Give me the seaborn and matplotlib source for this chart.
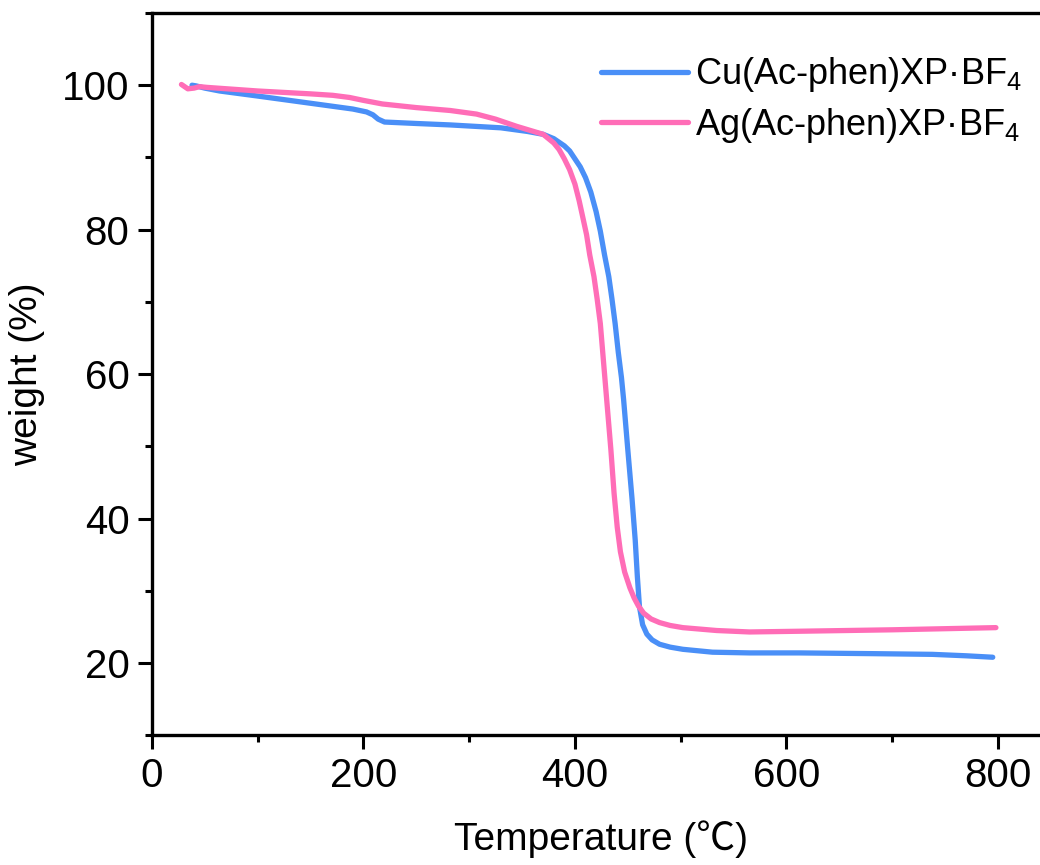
import numpy as np
import pandas as pd
import matplotlib
matplotlib.use("Agg")
import matplotlib.pyplot as plt
import seaborn as sns
from matplotlib.ticker import MultipleLocator

# ---- data ----
cu_temp = [38, 42, 50, 64, 100, 150, 190, 203, 209, 214, 220, 250, 282, 330, 355, 370,
           380, 390, 395, 400, 405, 410, 415, 420, 424, 428, 432, 435, 438, 441, 444, 446,
           450, 454, 457, 459, 461, 464, 468, 473, 480, 490, 502, 530, 565, 612, 680, 738,
           770, 795]
cu_weight = [100.0, 99.9, 99.6, 99.2, 98.5, 97.5, 96.7, 96.3, 95.9, 95.3, 94.9, 94.7, 94.5,
             94.1, 93.6, 93.2, 92.6, 91.6, 90.9, 89.8, 88.7, 87.2, 85.2, 82.5, 79.8, 76.5,
             73.5, 70.4, 67.0, 63.0, 59.5, 56.5, 49.5, 42.7, 37.0, 32.0, 27.8, 25.3, 24.0,
             23.2, 22.6, 22.2, 21.9, 21.5, 21.4, 21.4, 21.3, 21.2, 21.0, 20.8]

ag_temp = [28, 31, 34, 40, 45, 52, 100, 150, 171, 187, 200, 218, 250, 282, 307, 325, 345,
           370, 380, 385, 390, 395, 400, 404, 407, 411, 414, 418, 421, 424, 426, 428, 430,
           434, 437, 440, 443, 447, 452, 456, 460, 465, 472, 480, 490, 502, 534, 565, 612,
           700, 798]
ag_weight = [100.1, 99.8, 99.5, 99.6, 99.8, 99.7, 99.2, 98.8, 98.6, 98.3, 97.9, 97.4, 96.9,
             96.5, 96.0, 95.3, 94.3, 93.2, 92.0, 91.1, 89.8, 88.3, 86.3, 84.0, 82.0, 79.3,
             76.5, 73.5, 70.4, 67.0, 63.5, 60.0, 56.5, 49.5, 43.5, 38.8, 35.4, 32.6, 30.4,
             29.0, 27.9, 26.9, 26.1, 25.6, 25.2, 24.9, 24.5, 24.3, 24.4, 24.6, 24.9]

series_names = ["Cu(Ac-phen)XP·BF$_4$", "Ag(Ac-phen)XP·BF$_4$"]
colors = ["#4a8ff7", "#ff6db7"]
x_ticks = [0, 200, 400, 600, 800]
y_ticks = [20, 40, 60, 80, 100]

df = pd.concat([
    pd.DataFrame({"T": cu_temp, "w": cu_weight, "s": series_names[0]}),
    pd.DataFrame({"T": ag_temp, "w": ag_weight, "s": series_names[1]}),
], ignore_index=True)

sns.set_theme(style="ticks")
plt.rcParams["font.family"] = ["Liberation Sans", "Noto Sans CJK SC", "DejaVu Sans"]
plt.rcParams["mathtext.fontset"] = "custom"
plt.rcParams["mathtext.rm"] = "Liberation Sans"
plt.rcParams["mathtext.it"] = "Liberation Sans:italic"
plt.rcParams["text.color"] = "black"
plt.rcParams["axes.labelcolor"] = "black"

fig = plt.figure(figsize=(10.4, 8.65), dpi=100)
ax = fig.add_axes([0.146, 0.150, 0.8645, 0.835])

sns.lineplot(data=df, x="T", y="w", hue="s", palette=dict(zip(series_names, colors)),
             linewidth=3.8, sort=False, estimator=None, ax=ax, legend=True)
for ln in ax.get_lines():
    ln.set_solid_joinstyle("round")
    ln.set_solid_capstyle("round")

ax.set_xlim(0, 850)
ax.set_ylim(10, 110)
ax.set_xticks(x_ticks)
ax.set_yticks(y_ticks)
ax.xaxis.set_minor_locator(MultipleLocator(100))
ax.yaxis.set_minor_locator(MultipleLocator(10))
ax.tick_params(axis="both", which="major", direction="out", length=10, width=2.2,
               labelsize=29, pad=6, color="black", labelcolor="black")
ax.tick_params(axis="both", which="minor", direction="out", length=5, width=2.2, color="black")
for sp in ax.spines.values():
    sp.set_linewidth(2.4)
    sp.set_color("black")

ax.set_xlabel("Temperature (℃)", fontsize=28, labelpad=18, color="black")
ax.set_ylabel("weight (%)", fontsize=28, labelpad=12, color="black")

handles, labels = ax.get_legend_handles_labels()
leg = ax.legend(handles, labels, loc="upper right", bbox_to_anchor=(1.0, 0.957),
                bbox_transform=fig.transFigure, frameon=False, fontsize=26,
                handlelength=2.4, handletextpad=0.2, labelspacing=0.32, borderaxespad=0.1)
for line in leg.get_lines():
    line.set_linewidth(3.8)
for t in leg.get_texts():
    t.set_color("black")

fig.savefig("out.png", dpi=100, facecolor="white")
